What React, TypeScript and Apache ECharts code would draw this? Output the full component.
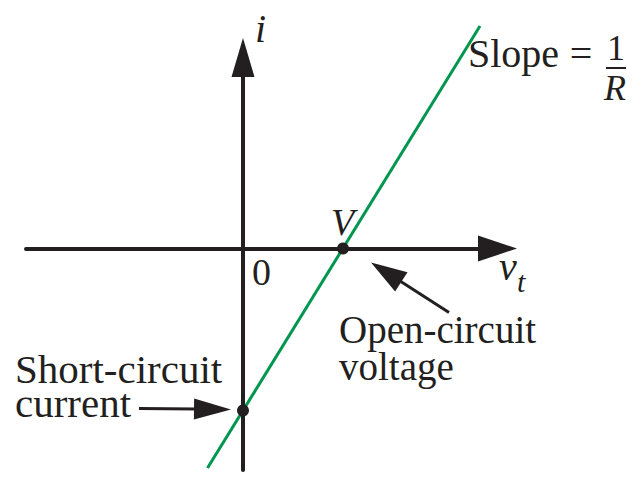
import { useEffect, useRef } from 'react';
import * as echarts from 'echarts';

// Axis extents (terminal voltage v_t horizontally, current i vertically)
const axisRangeV = [-2.17, 2.545];
const axisRangeI = [-2.215, 1.91];

// Load line of the source: i = (v_t - V) / R
const lineV = [-0.355, 2.37];
const lineI = [-2.195, 2.225];

// Marked intercepts: short-circuit current (v_t = 0) and open-circuit voltage (i = 0)
const markedV = [0, 1];
const markedI = [-1.62, 0];

const FONT = 'Liberation Serif';
const INK = '#231f20';
const GREEN = '#00964f';

type Pt = [number, number];

function arrow(tail: Pt, tip: Pt, headLen: number, headW: number) {
  const dx = tip[0] - tail[0];
  const dy = tip[1] - tail[1];
  const L = Math.hypot(dx, dy);
  const ux = dx / L;
  const uy = dy / L;
  const bx = tip[0] - ux * headLen;
  const by = tip[1] - uy * headLen;
  const px = (-uy * headW) / 2;
  const py = (ux * headW) / 2;
  return [
    {
      type: 'line',
      shape: { x1: tail[0], y1: tail[1], x2: bx + ux * 2, y2: by + uy * 2 },
      style: { stroke: INK, lineWidth: 3 },
    },
    {
      type: 'polygon',
      shape: { points: [tip, [bx + px, by + py], [bx - px, by - py]] },
      style: { fill: INK },
    },
  ];
}

// Single-line text placed by its baseline
function label(
  text: string,
  x: number,
  baseline: number,
  size: number,
  italic = false,
  align: 'left' | 'center' = 'left'
) {
  return {
    type: 'text',
    x,
    y: baseline - 0.34 * size,
    style: {
      text,
      fontSize: size,
      fontFamily: FONT,
      fontStyle: italic ? 'italic' : 'normal',
      fill: INK,
      textAlign: align,
      align,
      textVerticalAlign: 'middle',
      verticalAlign: 'middle',
    },
  };
}

// Two-line caption: first baseline given, lines spaced by `leading`
function caption(text: string, x: number, firstBaseline: number, size: number, leading: number) {
  return {
    type: 'text',
    x,
    y: firstBaseline - leading / 2 - 0.34 * size,
    style: {
      text,
      fontSize: size,
      fontFamily: FONT,
      lineHeight: leading,
      fill: INK,
      textAlign: 'left',
      align: 'left',
      textVerticalAlign: 'top',
      verticalAlign: 'top',
    },
  };
}

export default function App() {
  const ref = useRef<HTMLDivElement>(null);

  useEffect(() => {
    if (!ref.current) return;
    const chart = echarts.init(ref.current, null, { renderer: 'svg' });

    const axisCommon = {
      type: 'value' as const,
      axisLine: {
        show: true,
        onZero: true,
        symbol: ['none', 'triangle'],
        lineStyle: { color: INK, width: 4 },
      },
      axisTick: { show: false },
      axisLabel: { show: false },
      splitLine: { show: false },
    };

    chart.setOption({
      animation: false,
      backgroundColor: '#ffffff',
      grid: {
        left: 26,
        right: 146.5,
        top: 57.5,
        bottom: 7,
        containLabel: false,
        outerBoundsMode: 'none',
      },
      xAxis: {
        ...axisCommon,
        min: axisRangeV[0],
        max: axisRangeV[1],
        axisLine: { ...axisCommon.axisLine, symbolSize: [26, 39] },
      },
      yAxis: {
        ...axisCommon,
        min: axisRangeI[0],
        max: axisRangeI[1],
        axisLine: { ...axisCommon.axisLine, symbolSize: [23, 39] },
      },
      series: [
        {
          name: 'load line',
          type: 'line',
          data: lineV.map((v, k) => [v, lineI[k]]),
          showSymbol: false,
          clip: false,
          lineStyle: { color: GREEN, width: 3 },
          z: 3,
        },
        {
          name: 'intercepts',
          type: 'scatter',
          data: markedV.map((v, k) => [v, markedI[k]]),
          symbolSize: 12,
          itemStyle: { color: INK, opacity: 1 },
          z: 4,
        },
      ],
    });

    const isc = chart.convertToPixel({ gridIndex: 0 }, [markedV[0], markedI[0]]) as Pt;
    const voc = chart.convertToPixel({ gridIndex: 0 }, [markedV[1], markedI[1]]) as Pt;

    chart.setOption({
      graphic: [
        ...arrow([isc[0] - 104, isc[1] - 2], [isc[0] - 12, isc[1] - 1], 37, 21),
        ...arrow([voc[0] + 106, voc[1] + 64], [voc[0] + 28, voc[1] + 14], 36, 23),
        label('i', 255, 42, 40, true),
        label('Slope', 468, 67, 40),
        label('=', 581, 67, 40, false, 'center'),
        label('1', 616, 60, 36, false, 'center'),
        {
          type: 'rect',
          shape: { x: 606, y: 67, width: 20, height: 2 },
          style: { fill: INK },
        },
        label('R', 615, 100, 36, true, 'center'),
        label('V', 331, 235, 38, true),
        label('0', 252, 285, 38),
        label('v', 499, 280, 40, true),
        label('t', 517, 292, 30, true),
        caption('Open-circuit\nvoltage', 339, 343, 39, 37),
        caption('Short-circuit\ncurrent', 15, 383, 41, 34),
      ],
    });

    return () => chart.dispose();
  }, []);

  return (
    <div
      ref={ref}
      style={{ position: 'fixed', left: 0, top: 0, width: 644, height: 477 }}
    />
  );
}
